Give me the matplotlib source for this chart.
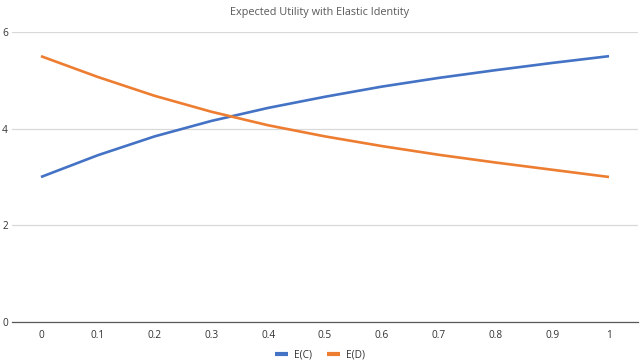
import matplotlib
matplotlib.use("Agg")
import matplotlib.pyplot as plt

x_vals = [0, 0.1, 0.2, 0.3, 0.4, 0.5, 0.6, 0.7, 0.8, 0.9, 1]
x_labels = ["0", "0.1", "0.2", "0.3", "0.4", "0.5", "0.6", "0.7", "0.8", "0.9", "1"]
e_c = [3.00, 3.45, 3.84, 4.16, 4.43, 4.66, 4.87, 5.05, 5.21, 5.36, 5.50]
e_d = [5.50, 5.07, 4.68, 4.35, 4.07, 3.84, 3.64, 3.46, 3.30, 3.15, 3.00]
y_ticks = [0, 2, 4, 6]

plt.rcParams['font.family'] = ['Open Sans', 'DejaVu Sans']

fig = plt.figure(figsize=(6.4, 3.62), dpi=100)
ax = fig.add_axes([12/640, 40/362, 626/640, 290/362])

ax.plot(x_vals, e_c, color='#4472C4', lw=1.9, label='E(C)', solid_capstyle='butt')
ax.plot(x_vals, e_d, color='#ED7D31', lw=1.9, label='E(D)', solid_capstyle='butt')

ax.set_xlim(-0.051, 1.051)
ax.set_ylim(0, 6)
ax.set_yticks(y_ticks)
ax.set_yticklabels([str(t) for t in y_ticks])
ax.set_xticks(x_vals)
ax.set_xticklabels(x_labels)
ax.grid(axis='y', color='#D9D9D9', lw=0.9)
ax.set_axisbelow(True)
for s in ['top', 'right', 'left']:
    ax.spines[s].set_visible(False)
ax.spines['bottom'].set_color('#595959')
ax.spines['bottom'].set_linewidth(0.9)
ax.tick_params(axis='both', length=0, labelsize=7.3, colors='#333333')
ax.tick_params(axis='y', pad=3)
ax.tick_params(axis='x', pad=6)

fig.text(0.5, 1 - 12/362, 'Expected Utility with Elastic Identity',
         ha='center', va='center', fontsize=7.8, color='#595959')

leg = fig.legend(loc='center', bbox_to_anchor=(0.5, 1 - 355/362), ncol=2,
                 frameon=False, fontsize=7.3, handlelength=1.3, handletextpad=0.6,
                 columnspacing=1.5)
for h in leg.get_lines():
    h.set_linewidth(3)
for t in leg.get_texts():
    t.set_color('#333333')

fig.savefig('out.png', dpi=100)
